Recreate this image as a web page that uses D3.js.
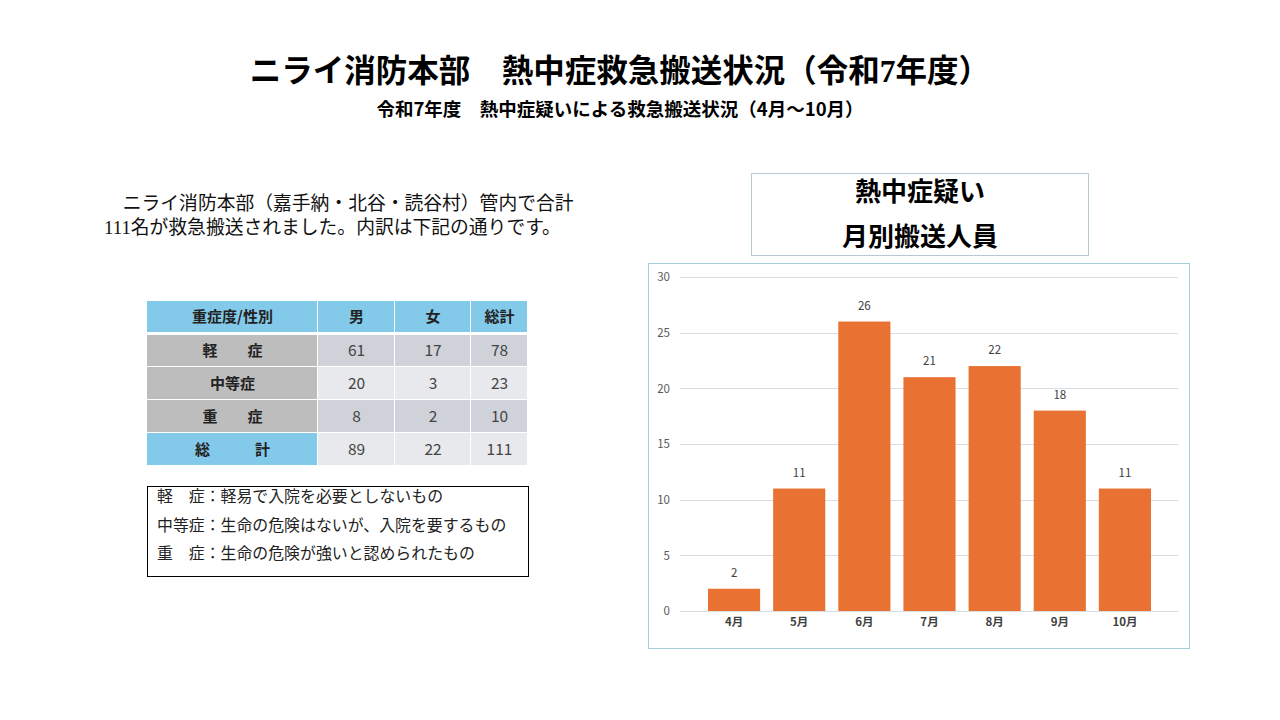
<!DOCTYPE html>
<html>
<head>
<meta charset="utf-8">
<title>熱中症救急搬送状況</title>
<style>
body { margin: 0; background: #fff; }
svg { display: block; }
.serif { font-family: "Liberation Serif", "DejaVu Serif", "Noto Sans CJK JP", serif; }
.sans { font-family: "Noto Sans CJK JP", "Noto Sans", sans-serif; }
.grid line { stroke: #d9dee3; stroke-width: 1px; }
</style>
</head>
<body>
<script src="https://cdn.jsdelivr.net/npm/d3@7"></script>
<script>

var width = 1280,
    height = 720;

// data
var months = ["4月", "5月", "6月", "7月", "8月", "9月", "10月"];
var counts = [2, 11, 26, 21, 22, 18, 11];
var yTicks = [0, 5, 10, 15, 20, 25, 30];

var tableHeader = ["重症度/性別", "男", "女", "総計"];
var rowLabels = ["軽　　症", "中等症", "重　　症", "総　　　計"];
var male = [61, 20, 8, 89];
var female = [17, 3, 2, 22];
var totals = [78, 23, 10, 111];

var notes = [
    "軽　症：軽易で入院を必要としないもの",
    "中等症：生命の危険はないが、入院を要するもの",
    "重　症：生命の危険が強いと認められたもの"
];

var svg = d3.select("body").append("svg")
    .attr("width", width)
    .attr("height", height);

// titles
svg.append("text")
    .attr("class", "serif")
    .attr("x", 620).attr("y", 82)
    .attr("text-anchor", "middle")
    .style("font-size", "31.5px").style("font-weight", "bold")
    .text("ニライ消防本部　熱中症救急搬送状況（令和7年度）");

svg.append("text")
    .attr("class", "sans")
    .attr("x", 620).attr("y", 116)
    .attr("text-anchor", "middle")
    .style("font-size", "18.5px").style("font-weight", "bold")
    .text("令和7年度　熱中症疑いによる救急搬送状況（4月～10月）");

// paragraph
var para = svg.append("text")
    .attr("class", "serif")
    .style("font-size", "18.8px")
    .attr("fill", "#111");
para.append("tspan").attr("x", 104).attr("y", 210)
    .text("　ニライ消防本部（嘉手納・北谷・読谷村）管内で合計");
para.append("tspan").attr("x", 104).attr("y", 234)
    .text("111名が救急搬送されました。内訳は下記の通りです。");

// ---- table
var colX = [147, 318, 395, 471, 528];
var rowY = [301, 335, 367, 400, 433, 466];

var tbl = svg.append("g");

tbl.selectAll(".hcell")
    .data(tableHeader)
  .enter().append("rect")
    .attr("x", function(d, i) { return colX[i]; })
    .attr("y", rowY[0])
    .attr("width", function(d, i) { return colX[i + 1] - colX[i] - 1; })
    .attr("height", 31)
    .attr("fill", "#83c9ea");

tbl.selectAll(".htext")
    .data(tableHeader)
  .enter().append("text")
    .attr("class", "sans")
    .attr("x", function(d, i) { return (colX[i] + colX[i + 1]) / 2; })
    .attr("y", rowY[0] + 16)
    .attr("dy", "0.35em")
    .attr("text-anchor", "middle")
    .style("font-size", "15px").style("font-weight", "bold")
    .attr("fill", "#222")
    .text(function(d) { return d; });

var rows = rowLabels.map(function(l, i) {
    return { label: l, vals: [male[i], female[i], totals[i]], i: i };
});

var row = tbl.selectAll(".row")
    .data(rows)
  .enter().append("g");

row.append("rect")
    .attr("x", colX[0])
    .attr("y", function(d) { return rowY[d.i + 1]; })
    .attr("width", colX[1] - colX[0] - 1)
    .attr("height", function(d) { return rowY[d.i + 2] - rowY[d.i + 1] - 1; })
    .attr("fill", function(d) { return d.i === 3 ? "#83c9ea" : "#bdbdbd"; });

row.append("text")
    .attr("class", "sans")
    .attr("x", (colX[0] + colX[1]) / 2)
    .attr("y", function(d) { return (rowY[d.i + 1] + rowY[d.i + 2]) / 2; })
    .attr("dy", "0.35em")
    .attr("text-anchor", "middle")
    .style("font-size", "15px").style("font-weight", "bold")
    .attr("fill", "#222")
    .text(function(d) { return d.label; });

row.selectAll(".v")
    .data(function(d) { return d.vals.map(function(v, j) { return { v: v, j: j, i: d.i }; }); })
  .enter().append("rect")
    .attr("x", function(d) { return colX[d.j + 1]; })
    .attr("y", function(d) { return rowY[d.i + 1]; })
    .attr("width", function(d) { return colX[d.j + 2] - colX[d.j + 1] - 1; })
    .attr("height", function(d) { return rowY[d.i + 2] - rowY[d.i + 1] - 1; })
    .attr("fill", function(d) { return d.i % 2 === 0 ? "#cfd3d9" : "#e7e9ed"; });

row.selectAll(".vt")
    .data(function(d) { return d.vals.map(function(v, j) { return { v: v, j: j, i: d.i }; }); })
  .enter().append("text")
    .attr("class", "sans")
    .attr("x", function(d) { return (colX[d.j + 1] + colX[d.j + 2]) / 2; })
    .attr("y", function(d) { return (rowY[d.i + 1] + rowY[d.i + 2]) / 2; })
    .attr("dy", "0.35em")
    .attr("text-anchor", "middle")
    .style("font-size", "15.5px")
    .attr("fill", "#444")
    .text(function(d) { return d.v; });

// notes box
svg.append("rect")
    .attr("x", 147.5).attr("y", 486.5)
    .attr("width", 381).attr("height", 90)
    .attr("fill", "none").attr("stroke", "#000");

svg.selectAll(".note")
    .data(notes)
  .enter().append("text")
    .attr("class", "serif")
    .attr("x", 157)
    .attr("y", function(d, i) { return 502 + i * 28.5; })
    .style("font-size", "15.9px")
    .attr("fill", "#222")
    .text(function(d) { return d; });

// ---- chart title box
svg.append("rect")
    .attr("x", 751.5).attr("y", 173.5)
    .attr("width", 337).attr("height", 82)
    .attr("fill", "#fff").attr("stroke", "#b7c9d3");

svg.append("text")
    .attr("class", "serif")
    .attr("x", 920).attr("y", 201)
    .attr("text-anchor", "middle")
    .style("font-size", "26px").style("font-weight", "bold")
    .text("熱中症疑い");
svg.append("text")
    .attr("class", "serif")
    .attr("x", 920).attr("y", 246)
    .attr("text-anchor", "middle")
    .style("font-size", "26px").style("font-weight", "bold")
    .text("月別搬送人員");

// ---- bar chart
svg.append("rect")
    .attr("x", 648.5).attr("y", 263.5)
    .attr("width", 541).attr("height", 385)
    .attr("fill", "#fff").attr("stroke", "#a9cddb");

var x = d3.scaleBand()
    .domain(months)
    .range([701.5, 1157.5])
    .paddingInner(0.2)
    .paddingOuter(0.1);

var y = d3.scaleLinear()
    .domain([0, 30])
    .range([611, 277]);

var grid = svg.append("g").attr("class", "grid");
grid.selectAll("line")
    .data(yTicks)
  .enter().append("line")
    .attr("x1", 680).attr("x2", 1178)
    .attr("y1", function(d) { return Math.round(y(d)) + 0.5; })
    .attr("y2", function(d) { return Math.round(y(d)) + 0.5; });

var yAxis = svg.append("g")
    .attr("transform", "translate(670,0)")
    .call(d3.axisLeft(y).tickValues(yTicks).tickSize(0).tickPadding(0));
yAxis.select(".domain").remove();
yAxis.selectAll("text")
    .attr("class", "sans")
    .style("font-size", "11.5px")
    .attr("fill", "#595959");

svg.selectAll(".bar")
    .data(counts)
  .enter().append("rect")
    .attr("x", function(d, i) { return x(months[i]); })
    .attr("y", function(d) { return y(d); })
    .attr("width", x.bandwidth())
    .attr("height", function(d) { return y(0) - y(d); })
    .attr("fill", "#e97132");

svg.selectAll(".lbl")
    .data(counts)
  .enter().append("text")
    .attr("class", "sans")
    .attr("x", function(d, i) { return x(months[i]) + x.bandwidth() / 2; })
    .attr("y", function(d) { return y(d) - 12; })
    .attr("text-anchor", "middle")
    .style("font-size", "11.5px")
    .attr("fill", "#404040")
    .text(function(d) { return d; });

var xAxis = svg.append("g")
    .attr("transform", "translate(0,611)")
    .call(d3.axisBottom(x).tickSize(0).tickPadding(7));
xAxis.select(".domain").remove();
xAxis.selectAll("text")
    .attr("class", "sans")
    .style("font-size", "11.5px").style("font-weight", "bold")
    .attr("fill", "#404040");

</script>
</body>
</html>
